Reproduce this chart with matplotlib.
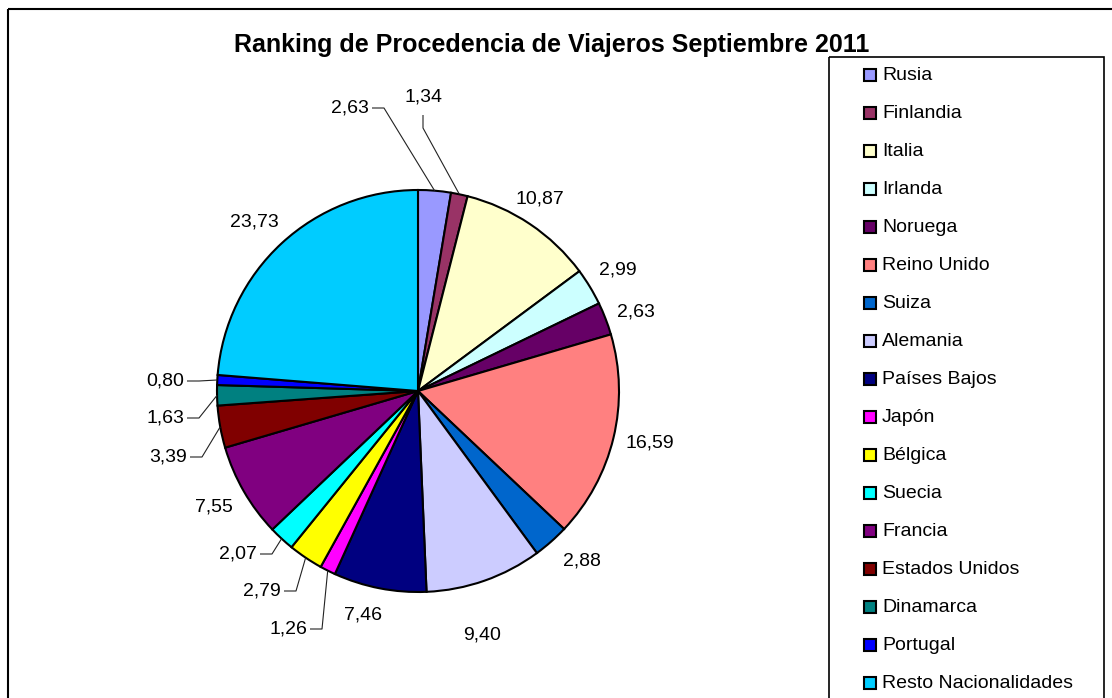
import matplotlib
matplotlib.use('Agg')
import matplotlib.pyplot as plt
from matplotlib.patches import Rectangle
import numpy as np

# ---------------- data ----------------
countries = ['Rusia', 'Finlandia', 'Italia', 'Irlanda', 'Noruega', 'Reino Unido',
             'Suiza', 'Alemania', 'Países Bajos', 'Japón', 'Bélgica', 'Suecia',
             'Francia', 'Estados Unidos', 'Dinamarca', 'Portugal', 'Resto Nacionalidades']
values = [2.63, 1.34, 10.87, 2.99, 2.63, 16.59, 2.88, 9.40, 7.46, 1.26, 2.79,
          2.07, 7.55, 3.39, 1.63, 0.80, 23.73]
colors = ['#9999FF', '#993366', '#FFFFCC', '#CCFFFF', '#660066', '#FF8080',
          '#0066CC', '#CCCCFF', '#000080', '#FF00FF', '#FFFF00', '#00FFFF',
          '#800080', '#800000', '#008080', '#0000FF', '#00CCFF']
title = 'Ranking de Procedencia de Viajeros Septiembre 2011'

# ---------------- layout (pixels) ----------------
W, H = 1112, 698
cx, cy, R = 418, 391, 201
# label anchor (x, y, ha, leader kind)
label_layout = [
    (369, 108, 'right', 'h'),
    (423, 97, 'center', 'v'),
    (540, 199, 'center', None),
    (618, 270, 'center', None),
    (636, 312, 'center', None),
    (650, 443, 'center', None),
    (582, 561, 'center', None),
    (482, 635, 'center', None),
    (363, 615, 'center', None),
    (307, 629, 'right', 'h'),
    (281, 591, 'right', 'h'),
    (257, 554, 'right', 'h'),
    (214, 507, 'center', None),
    (187, 457, 'right', 'h'),
    (184, 418, 'right', 'h'),
    (184, 381, 'right', 'h'),
    (254, 222, 'center', None),
]

plt.rcParams['font.family'] = ['Liberation Sans', 'DejaVu Sans']

fig = plt.figure(figsize=(W / 100, H / 100), dpi=100)
ax = fig.add_axes([0, 0, 1, 1])

wedges, _ = ax.pie(values, colors=colors, startangle=-90, counterclock=True,
                   center=(cx, cy), radius=R,
                   wedgeprops=dict(edgecolor='black', linewidth=1.5))
ax.set_xlim(0, W)
ax.set_ylim(H, 0)
ax.set_aspect('auto')
ax.axis('off')

# value labels + leader lines
for w, v, (lx, ly, ha, kind) in zip(wedges, values, label_layout):
    txt = f'{v:.2f}'.replace('.', ',')
    ax.text(lx, ly, txt, ha=ha, va='center', fontsize=14, color='black')
    th = np.deg2rad((w.theta1 + w.theta2) / 2)
    px, py = cx + R * np.cos(th), cy + R * np.sin(th)
    if kind == 'h':
        xs = [lx + 3, lx + 15, px]
        ys = [ly, ly, py]
        ax.plot(xs, ys, color='#222222', lw=0.8, solid_capstyle='butt')
    elif kind == 'v':
        xs = [lx, lx, px]
        ys = [ly + 18, ly + 31, py]
        ax.plot(xs, ys, color='#222222', lw=0.8, solid_capstyle='butt')

# title
ax.text(552, 45, title, ha='center', va='center', fontsize=18, fontweight='bold')

# outer chart border
ax.add_patch(Rectangle((8, 9), W, H, fill=False, edgecolor='black', lw=1.5))

# legend frame
ax.add_patch(Rectangle((829, 57), 1104 - 829, H, fill=False, edgecolor='black', lw=1.2))
for i, (name, col) in enumerate(zip(countries, colors)):
    y = 75 + i * 38.0
    ax.add_patch(Rectangle((864, y - 6), 12, 12, facecolor=col, edgecolor='black', lw=1.5))
    ax.text(882, y, name, ha='left', va='center', fontsize=14)

fig.savefig('out.png', dpi=100)
